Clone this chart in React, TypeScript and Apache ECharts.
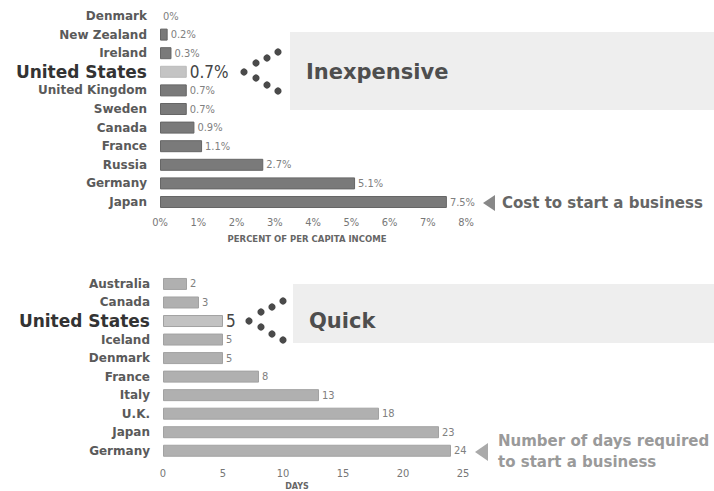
import React, { useEffect, useRef } from "react";
import * as echarts from "echarts";

const costCountries = ["Denmark", "New Zealand", "Ireland", "United States", "United Kingdom", "Sweden", "Canada", "France", "Russia", "Germany", "Japan"];
const costValues = [0, 0.2, 0.3, 0.7, 0.7, 0.7, 0.9, 1.1, 2.7, 5.1, 7.5];
const dayCountries = ["Australia", "Canada", "United States", "Iceland", "Denmark", "France", "Italy", "U.K.", "Japan", "Germany"];
const dayValues = [2, 3, 5, 5, 5, 8, 13, 18, 23, 24];
const HIGHLIGHT = "United States";

const LABEL_FONT = "'DejaVu Sans', sans-serif";
const NUM_FONT = "'Liberation Sans Narrow', 'DejaVu Sans Condensed', sans-serif";

function dots(cx: number, cy: number) {
  const pts = [[34, -20], [23, -14], [12, -9], [0, 0], [12, 6], [23, 13], [34, 19]];
  return pts.map(([dx, dy]) => ({
    type: "circle",
    shape: { cx: cx + dx, cy: cy + dy, r: 3.6 },
    style: { fill: "#4a4a4a" },
    z: 10,
  }));
}

export default function App() {
  const ref = useRef<HTMLDivElement>(null);
  useEffect(() => {
    const chart = echarts.init(ref.current!, null, { renderer: "svg" });
    const yLabel = {
      margin: 13,
      fontFamily: LABEL_FONT,
      fontWeight: "bold",
      fontSize: 12,
      color: "#5a5a5a",
      formatter: (v: string) => (v === HIGHLIGHT ? `{us|${v}}` : v),
      rich: { us: { fontFamily: LABEL_FONT, fontWeight: "bold", fontSize: 17, color: "#333" } },
    };
    const option: any = {
      animation: false,
      backgroundColor: "#fff",
      grid: [
        { left: 160, right: 248, top: 6.7, height: 204.6 },
        { left: 163, right: 251, top: 274.7, height: 186.7 },
      ],
      xAxis: [
        {
          gridIndex: 0, type: "value", min: 0, max: 8, interval: 1,
          axisLine: { show: false }, axisTick: { show: false }, splitLine: { show: false },
          axisLabel: { formatter: "{value}%", fontFamily: NUM_FONT, fontSize: 11, color: "#777", margin: 6 },
          name: "PERCENT OF PER CAPITA INCOME", nameLocation: "middle", nameGap: 23,
          nameTextStyle: { fontFamily: LABEL_FONT, fontWeight: "bold", fontSize: 8.5, color: "#666", padding: [0, 12, 0, 0] },
        },
        {
          gridIndex: 1, type: "value", min: 0, max: 25, interval: 5,
          axisLine: { show: false }, axisTick: { show: false }, splitLine: { show: false },
          axisLabel: { fontFamily: NUM_FONT, fontSize: 11, color: "#777", margin: 8 },
          name: "DAYS", nameLocation: "middle", nameGap: 22,
          nameTextStyle: { fontFamily: LABEL_FONT, fontWeight: "bold", fontSize: 8, color: "#666", padding: [0, 32, 0, 0] },
        },
      ],
      yAxis: [
        {
          gridIndex: 0, type: "category", inverse: true, data: costCountries,
          axisLine: { show: false }, axisTick: { show: false }, axisLabel: yLabel,
        },
        {
          gridIndex: 1, type: "category", inverse: true, data: dayCountries,
          axisLine: { show: false }, axisTick: { show: false }, axisLabel: yLabel,
        },
      ],
      series: [
        {
          type: "bar", xAxisIndex: 0, yAxisIndex: 0, barWidth: 12,
          data: costValues.map((v, i) => {
            if (costCountries[i] === HIGHLIGHT) {
              return { value: v, itemStyle: { color: "#c4c4c4", borderColor: "#bbb" }, label: { fontSize: 17, color: "#444" } };
            }
            if (v === 0) return { value: v, itemStyle: { borderWidth: 0 } };
            return v;
          }),
          itemStyle: { color: "#7a7a7a", borderColor: "#666", borderWidth: 1 },
          label: { show: true, position: "right", distance: 3, formatter: "{c}%", fontFamily: NUM_FONT, fontSize: 11, color: "#808080" },
        },
        {
          type: "bar", xAxisIndex: 1, yAxisIndex: 1, barWidth: 12,
          data: dayValues.map((v, i) => dayCountries[i] === HIGHLIGHT
            ? { value: v, itemStyle: { color: "#c2c2c2" }, label: { fontSize: 17, color: "#444" } }
            : v),
          itemStyle: { color: "#b0b0b0", borderColor: "#a2a2a2", borderWidth: 1 },
          label: { show: true, position: "right", distance: 3, fontFamily: NUM_FONT, fontSize: 11, color: "#808080" },
        },
      ],
      graphic: [
        { type: "rect", shape: { x: 290, y: 32, width: 424, height: 78 }, style: { fill: "#eeeeee" }, z: -10 },
        { type: "rect", shape: { x: 293, y: 284, width: 421, height: 59 }, style: { fill: "#eeeeee" }, z: -10 },
        ...dots(244, 72),
        ...dots(249, 321),
        { type: "text", x: 306, y: 72, style: { text: "Inexpensive", font: "bold 21px 'DejaVu Sans'", fill: "#4e4e4e", textVerticalAlign: "middle" }, z: 10 },
        { type: "text", x: 309, y: 321, style: { text: "Quick", font: "bold 21px 'DejaVu Sans'", fill: "#4e4e4e", textVerticalAlign: "middle" }, z: 10 },
        { type: "polygon", shape: { points: [[483, 203], [495, 195], [495, 211]] }, style: { fill: "#888" }, z: 10 },
        { type: "text", x: 502, y: 203, style: { text: "Cost to start a business", font: "bold 15px 'DejaVu Sans'", fill: "#666", textVerticalAlign: "middle" }, z: 10 },
        { type: "polygon", shape: { points: [[475, 452], [488, 443], [488, 461]] }, style: { fill: "#aaa" }, z: 10 },
        { type: "text", x: 498, y: 441, style: { text: "Number of days required", font: "bold 15px 'DejaVu Sans'", fill: "#9a9a9a", textVerticalAlign: "middle" }, z: 10 },
        { type: "text", x: 498, y: 462, style: { text: "to start a business", font: "bold 15px 'DejaVu Sans'", fill: "#9a9a9a", textVerticalAlign: "middle" }, z: 10 },
      ],
    };
    chart.setOption(option);
    return () => chart.dispose();
  }, []);
  return <div ref={ref} style={{ position: "fixed", left: 0, top: 0, width: 714, height: 491 }} />;
}
